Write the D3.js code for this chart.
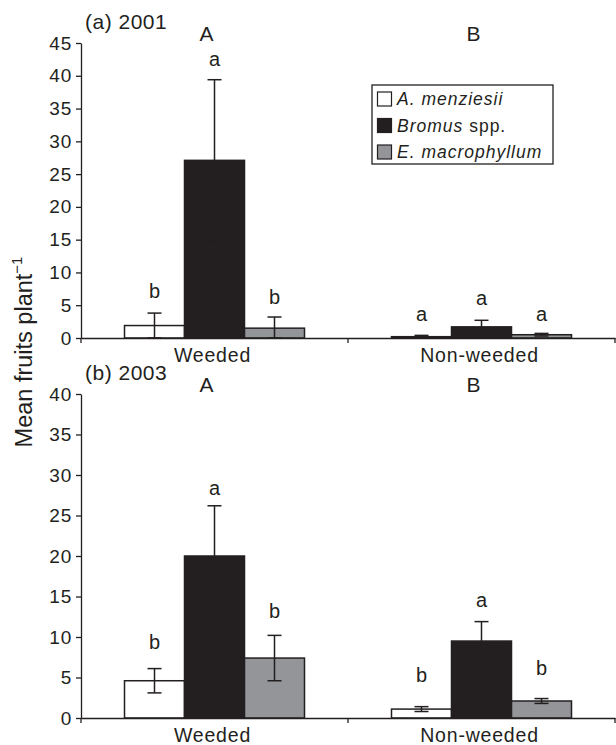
<!DOCTYPE html>
<html lang="en">
<head>
  <meta charset="UTF-8">
  <title>Mean fruits per plant - 2001 and 2003</title>
  <style>
    body {
      margin: 0;
      background: #fff;
    }

    svg {
      display: block;
      font-family: 'Liberation Sans', Arial, Helvetica, sans-serif;
    }

    .axis path,
    .axis line {
      stroke: #231f20;
      stroke-width: 1.3px;
    }

    .axis text {
      fill: #231f20;
      font-size: 19px;
      letter-spacing: 0.8px;
    }
  </style>
</head>
<body>
  <svg id="chart" width="616" height="745"></svg>
  <script src="https://d3js.org/d3.v7.min.js"></script>
  <script>
    const groups = ['Weeded', 'Non-weeded']
    const groupLetters = ['A', 'B']
    const species = ['A. menziesii', 'Bromus spp.', 'E. macrophyllum']
    const speciesItalic = ['A. menziesii', 'Bromus', 'E. macrophyllum']
    const speciesPlain = ['', ' spp.', '']

    // 2001: mean and SE, rows = groups, cols = species
    const means2001 = [[1.9, 27.1, 1.5], [0.2, 1.7, 0.5]]
    const se2001 = [[1.9, 12.3, 1.7], [0.2, 1.0, 0.2]]
    const letters2001 = [['b', 'a', 'b'], ['a', 'a', 'a']]
    const letterLevel2001 = [[6.1, 41.5, 5.2], [2.6, 5.0, 2.6]]
    const yTicks2001 = [0, 5, 10, 15, 20, 25, 30, 35, 40, 45]

    // 2003
    const means2003 = [[4.6, 20.0, 7.4], [1.1, 9.5, 2.1]]
    const se2003 = [[1.5, 6.2, 2.8], [0.3, 2.4, 0.3]]
    const letters2003 = [['b', 'a', 'b'], ['b', 'a', 'b']]
    const letterLevel2003 = [[8.5, 27.5, 12.3], [4.4, 13.7, 5.3]]
    const yTicks2003 = [0, 5, 10, 15, 20, 25, 30, 35, 40]

    const fills = ['#ffffff', '#231f20', '#939598']
    const ink = '#231f20'

    const svg = d3.select('#chart')

    const left = 81
    const right = 615
    const barWidth = 60

    const x0 = d3.scaleBand()
      .domain(groups)
      .range([left, right])

    const x1 = d3.scaleBand()
      .domain(species)
      .range([(x0.bandwidth() - 3 * barWidth) / 2, (x0.bandwidth() + 3 * barWidth) / 2])

    const color = d3.scaleOrdinal().domain(species).range(fills)

    const panels = [
      { title: '(a) 2001', means: means2001, se: se2001, letters: letters2001, levels: letterLevel2001,
        ticks: yTicks2001, max: 45, bottom: 338, top: 43 },
      { title: '(b) 2003', means: means2003, se: se2003, letters: letters2003, levels: letterLevel2003,
        ticks: yTicks2003, max: 40, bottom: 718, top: 394 }
    ]

    panels.forEach(p => {
      const y = d3.scaleLinear()
        .domain([0, p.max])
        .range([p.bottom, p.top])

      const g = svg.append('g')

      const rows = groups.flatMap((grp, gi) => species.map((sp, si) => ({
        group: grp,
        sp: sp,
        gi: gi,
        mean: p.means[gi][si],
        se: p.se[gi][si],
        letter: p.letters[gi][si],
        level: p.levels[gi][si]
      })))

      // bars
      g.selectAll('.bar')
        .data(rows)
        .enter()
        .append('rect')
        .attr('class', 'bar')
        .attr('x', d => x0(d.group) + x1(d.sp))
        .attr('y', d => y(d.mean))
        .attr('width', x1.bandwidth())
        .attr('height', d => y(0) - y(d.mean))
        .attr('fill', d => color(d.sp))
        .attr('stroke', ink)
        .attr('stroke-width', 1.5)

      // error bars
      const err = g.selectAll('.err')
        .data(rows)
        .enter()
        .append('g')
        .attr('class', 'err')
        .attr('transform', d => `translate(${x0(d.group) + x1(d.sp) + x1.bandwidth() / 2},0)`)
        .attr('stroke', ink)
        .attr('stroke-width', 1.5)

      err.append('line')
        .attr('y1', d => y(Math.max(0, d.mean - d.se)))
        .attr('y2', d => y(d.mean + d.se))
      err.append('line')
        .attr('x1', -7).attr('x2', 7)
        .attr('y1', d => y(d.mean + d.se))
        .attr('y2', d => y(d.mean + d.se))
      err.append('line')
        .attr('x1', -7).attr('x2', 7)
        .attr('y1', d => y(Math.max(0, d.mean - d.se)))
        .attr('y2', d => y(Math.max(0, d.mean - d.se)))

      // significance letters
      g.selectAll('.sig')
        .data(rows)
        .enter()
        .append('text')
        .attr('class', 'sig')
        .attr('x', d => x0(d.group) + x1(d.sp) + x1.bandwidth() / 2)
        .attr('y', d => y(d.level))
        .attr('text-anchor', 'middle')
        .attr('font-size', 20)
        .attr('fill', ink)
        .text(d => d.letter)

      // group letters A / B
      g.selectAll('.grp')
        .data(groups)
        .enter()
        .append('text')
        .attr('class', 'grp')
        .attr('x', d => x0(d) + x0.bandwidth() / 2 - 8)
        .attr('y', p.top - 2)
        .attr('text-anchor', 'middle')
        .attr('font-size', 21)
        .attr('fill', ink)
        .text((d, i) => groupLetters[i])

      // y axis
      g.append('g')
        .attr('class', 'axis')
        .attr('transform', `translate(${left},0)`)
        .call(d3.axisLeft(y).tickValues(p.ticks).tickSize(5).tickSizeOuter(0).tickPadding(4))

      // x axis: labels at band centres, ticks at band edges
      const xa = g.append('g')
        .attr('class', 'axis')
        .attr('transform', `translate(0,${p.bottom})`)
        .call(d3.axisBottom(x0).tickSize(0).tickSizeOuter(0).tickPadding(10))
      xa.selectAll('.tick text')
        .style('font-size', '19.5px')
        .attr('dx', -2)
      xa.selectAll('.edge')
        .data(groups.map(d => x0(d)).concat([x0.range()[1]]))
        .enter()
        .append('line')
        .attr('class', 'edge')
        .attr('x1', d => d).attr('x2', d => d)
        .attr('y1', 0).attr('y2', 5)

      // panel title
      g.append('text')
        .attr('x', left + 4)
        .attr('y', p.top - 14)
        .attr('font-size', 21)
        .attr('letter-spacing', 0.5)
        .attr('fill', ink)
        .text(p.title)
    })

    // y label
    svg.append('text')
      .attr('transform', 'translate(32,352) rotate(-90)')
      .attr('text-anchor', 'middle')
      .attr('font-size', 23.5)
      .attr('fill', ink)
      .call(t => t.append('tspan').text('Mean fruits plant'))
      .call(t => t.append('tspan')
        .attr('font-size', 15)
        .attr('dy', -10)
        .text('\u22121'))

    // legend
    const legend = svg.append('g')
      .attr('transform', 'translate(372,85)')

    legend.append('rect')
      .attr('width', 181)
      .attr('height', 79)
      .attr('fill', '#fff')
      .attr('stroke', ink)
      .attr('stroke-width', 1.3)

    const item = legend.selectAll('.item')
      .data(species)
      .enter()
      .append('g')
      .attr('class', 'item')
      .attr('transform', (d, i) => `translate(5,${14 + i * 26.5})`)

    item.append('rect')
      .attr('x', 0.5)
      .attr('y', -7)
      .attr('width', 14)
      .attr('height', 14)
      .attr('fill', d => color(d))
      .attr('stroke', ink)
      .attr('stroke-width', 1.2)

    item.append('text')
      .attr('x', 20)
      .attr('y', 6)
      .attr('font-size', 17.5)
      .attr('letter-spacing', 1)
      .attr('fill', ink)
      .call(t => t.append('tspan').attr('font-style', 'italic').text((d, i) => speciesItalic[i]))
      .call(t => t.append('tspan').text((d, i) => speciesPlain[i]))
  </script>
</body>
</html>
